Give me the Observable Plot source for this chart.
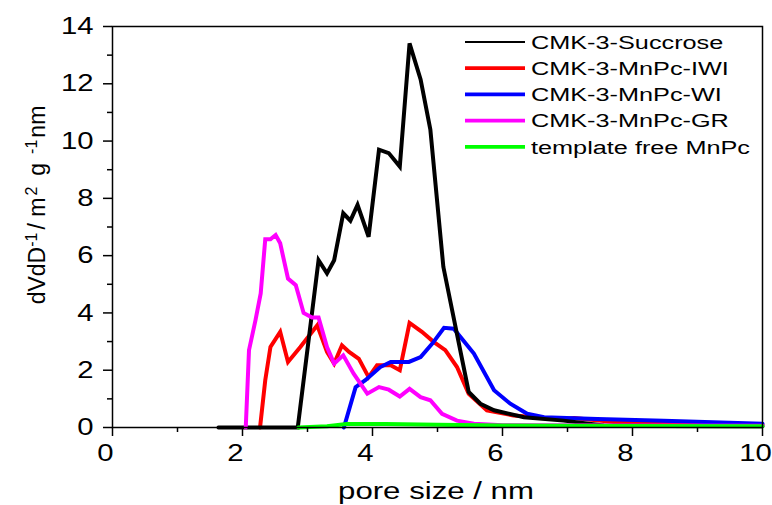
<!DOCTYPE html>
<html>
<head>
<meta charset="utf-8">
<script src="https://cdn.jsdelivr.net/npm/d3@7"></script>
<script src="https://cdn.jsdelivr.net/npm/@observablehq/plot@0.6"></script>
<style>
  body { margin: 0; background: #fff; }
  #chart { width: 772px; height: 505px; }
</style>
</head>
<body>
<div id="chart"></div>
<script>
// ---- data ----
const seriesNames = ["CMK-3-Succrose", "CMK-3-MnPc-IWI", "CMK-3-MnPc-WI", "CMK-3-MnPc-GR", "template free MnPc"];
const seriesColors = ["#000000", "#ff0000", "#0000ff", "#ff00ff", "#00ff00"];

const succroseX = [1.63, 2.85, 3.17, 3.30, 3.41, 3.55, 3.66, 3.77, 3.94, 4.10, 4.25, 4.42, 4.57, 4.74, 4.89, 5.09, 5.48, 5.66, 5.87, 6.33, 6.94, 7.56, 8.5, 10];
const succroseY = [0, 0, 5.84, 5.38, 5.84, 7.48, 7.22, 7.77, 6.66, 9.70, 9.58, 9.11, 13.41, 12.15, 10.40, 5.61, 1.24, 0.83, 0.60, 0.36, 0.24, 0.07, 0.05, 0.04];

const iwiX = [2.27, 2.35, 2.43, 2.58, 2.70, 2.89, 3.15, 3.30, 3.41, 3.53, 3.64, 3.79, 3.94, 4.07, 4.28, 4.42, 4.57, 4.76, 4.94, 5.12, 5.30, 5.48, 5.76, 6.17, 6.94, 7.1, 7.71, 10];
const iwiY = [0, 1.65, 2.81, 3.34, 2.29, 2.81, 3.57, 2.64, 2.23, 2.87, 2.64, 2.40, 1.76, 2.17, 2.17, 2.00, 3.65, 3.34, 2.99, 2.70, 2.11, 1.18, 0.60, 0.42, 0.28, 0.33, 0.19, 0.10];

const wiX = [3.56, 3.74, 3.89, 4.12, 4.28, 4.56, 4.74, 4.92, 5.10, 5.25, 5.56, 5.87, 6.12, 6.38, 6.64, 7.46, 8.48, 10];
const wiY = [0, 1.41, 1.65, 2.11, 2.29, 2.29, 2.46, 2.93, 3.48, 3.45, 2.58, 1.30, 0.83, 0.48, 0.36, 0.30, 0.24, 0.13];

const grX = [2.05, 2.10, 2.20, 2.28, 2.35, 2.43, 2.51, 2.58, 2.70, 2.82, 2.94, 3.07, 3.17, 3.30, 3.41, 3.55, 3.71, 3.92, 4.10, 4.25, 4.42, 4.57, 4.74, 4.89, 5.07, 5.30, 5.56, 6.0, 10];
const grY = [0, 2.70, 3.75, 4.68, 6.57, 6.57, 6.72, 6.43, 5.20, 4.97, 4.00, 3.84, 3.84, 2.81, 2.23, 2.52, 1.88, 1.18, 1.41, 1.32, 1.08, 1.35, 1.06, 0.95, 0.48, 0.24, 0.13, 0.08, 0.06];

const freeX = [2.86, 3.3, 3.6, 4.2, 5.0, 6.0, 8.0, 10];
const freeY = [0, 0.04, 0.12, 0.12, 0.10, 0.07, 0.05, 0.04];

const xMajorTicks = [0, 2, 4, 6, 8, 10];
const xMinorTicks = [1, 3, 5, 7, 9];
const yMajorTicks = [0, 2, 4, 6, 8, 10, 12, 14];
const yMinorTicks = [1, 3, 5, 7, 9, 11, 13];

const xTitle = "pore size / nm";
// [text, superscript?, gap before]
const yTitleParts = [["dVdD", 0, 0], ["-1", 1, 0], ["/ m", 0, 3], ["2", 1, 2], ["g", 0, 11], ["-1", 1, 9], ["nm", 0, 2]];

// ---- build rows ----
const rows = (xs, ys, name) => xs.map((x, i) => ({x, y: ys[i], name}));
const series = [
  rows(iwiX, iwiY, seriesNames[1]),
  rows(wiX, wiY, seriesNames[2]),
  rows(succroseX, succroseY, seriesNames[0]),
  rows(grX, grY, seriesNames[3]),
  rows(freeX, freeY, seriesNames[4])
];
const colorOf = Object.fromEntries(seriesNames.map((n, i) => [n, seriesColors[i]]));

const W = 772, H = 505;
const mL = 112, mR = 10, mT = 26, mB = 78;
const font = "'Liberation Sans', Arial, sans-serif";

const plot = Plot.plot({
  width: W,
  height: H,
  marginLeft: mL,
  marginRight: mR,
  marginTop: mT,
  marginBottom: mB,
  style: {fontFamily: font, fontSize: "24px", color: "#000", background: "#fff", overflow: "visible"},
  x: {domain: [0, 10]},
  y: {domain: [0, 14]},
  marks: [
    ...series.map(d => Plot.line(d, {x: "x", y: "y", stroke: colorOf[d[0].name], strokeWidth: 4, strokeLinejoin: "miter", strokeMiterlimit: 3})),
    Plot.frame({stroke: "#000", strokeWidth: 1.5}),
    Plot.axisX({ticks: xMajorTicks, tickSize: 9, tickPadding: 7, tickFormat: d => String(d), label: null, fontSize: 24, strokeWidth: 1.5}),
    Plot.axisX({ticks: xMinorTicks, tickSize: 5, tickFormat: () => "", label: null, strokeWidth: 1.5}),
    Plot.axisY({ticks: yMajorTicks, tickSize: 9, tickPadding: 10, tickFormat: d => String(d), label: null, fontSize: 24, strokeWidth: 1.5}),
    Plot.axisY({ticks: yMinorTicks, tickSize: 5, tickFormat: () => "", label: null, strokeWidth: 1.5})
  ]
});

document.getElementById("chart").appendChild(plot);

const svg = d3.select(plot);

// widen the tick labels like the reference's broad lettering; x labels sit a little left of their ticks
svg.selectAll('g[aria-label="x-axis tick label"] text').each(function() {
  const t = d3.select(this);
  t.attr("transform", "translate(-7,0) " + (t.attr("transform") || "") + " scale(1.22,1)");
});
svg.selectAll('g[aria-label="y-axis tick label"] text').each(function() {
  const t = d3.select(this);
  t.attr("transform", (t.attr("transform") || "") + " scale(1.22,1)");
});

// ---- titles and legend ----
svg.append("text")
  .attr("transform", "translate(436,499) scale(1.3,1)")
  .attr("text-anchor", "middle")
  .attr("font-family", font)
  .attr("font-size", 24)
  .attr("fill", "#000")
  .text(xTitle);

const yt = svg.append("text")
  .attr("transform", "translate(45,205) rotate(-90)")
  .attr("text-anchor", "middle")
  .attr("font-family", font)
  .attr("font-size", 23)
  .attr("fill", "#000");
yTitleParts.forEach(([t, sup, gap]) => {
  yt.append("tspan")
    .attr("dx", gap || null)
    .attr("baseline-shift", sup ? "super" : null)
    .attr("font-size", sup ? 16 : 23)
    .text(t);
});

const legend = svg.append("g").attr("font-family", font).attr("font-size", 19).attr("text-anchor", "start");
seriesNames.forEach((n, i) => {
  const yy = 42 + i * 26.2;
  legend.append("line")
    .attr("x1", 465).attr("x2", 525)
    .attr("y1", yy).attr("y2", yy)
    .attr("stroke", seriesColors[i])
    .attr("stroke-width", i === 0 ? 2 : 3.8);
  legend.append("text")
    .attr("transform", `translate(531,${yy}) scale(1.33,1)`)
    .attr("dy", "0.36em")
    .attr("text-anchor", "start")
    .attr("fill", "#000")
    .text(n);
});
</script>
</body>
</html>
